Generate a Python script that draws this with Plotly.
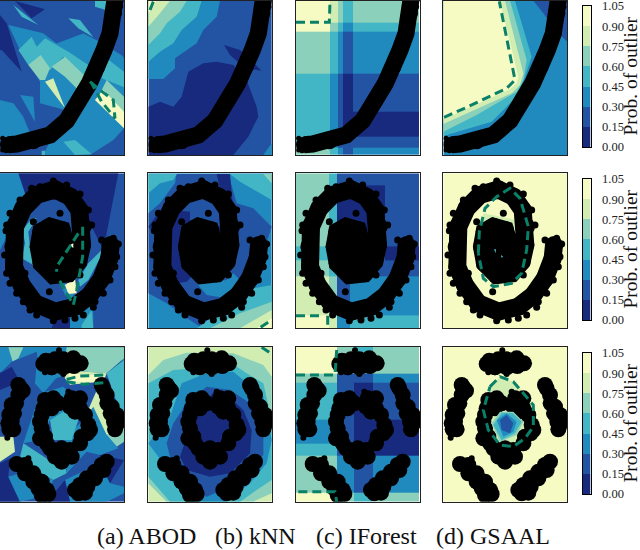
import plotly.graph_objects as go

W, H = 640, 550

# band colours, one per 0.15 of outlier probability
LEVEL_COLORS = ['#182a7e', '#2354a3', '#2089bd', '#42b6c4', '#8bd0ba', '#d1edb2', '#f6fbc4']
CONTOUR = '#0a8068'
CBAR_TICKS = [0.0, 0.15, 0.3, 0.45, 0.6, 0.75, 0.9, 1.05]
CBAR_TOP = [6, 179, 353]
CAPTIONS = ['(a) ABOD', '(b) kNN', '(c) IForest', '(d) GSAAL']
CAPTION_X = [146, 255.5, 366, 492.5]

COL_LEFT = [0, 445, 18, 370]
COL_PX = [0, 148.33, 296, 443.33]
ROW_TOP = [2, 10, 20]
ROW_BOTTOM = [465, 475, 485]
ROW_OFF = [0, 170, 340]

# --- data clouds (x relative to panel left)
CURVE = [(346, -8), (342, 40), (330, 100), (312, 150), (292, 200), (268, 250), (238, 300), (200, 362),
         (150, 405), (100, 424), (50, 432), (24, 434)]
CURVE_DOTS = [(8, 415), (8, 450), (345, 8), (362, 20), (18, 452)]

SPIRAL = [(332, 225), (328, 265), (305, 325), (270, 375), (225, 410), (165, 425), (105, 400), (65, 345),
          (42, 290), (40, 230), (45, 170), (70, 115), (110, 75), (165, 58), (210, 80), (238, 120),
          (248, 170), (246, 225), (235, 275), (205, 310), (160, 315), (125, 280), (116, 230), (124, 185),
          (150, 170), (185, 180), (195, 215), (170, 240)]
SPIRAL_FILL = [(160, 210), (160, 255), (190, 270), (205, 270), (170, 290), (145, 240), (215, 255)]
SPIRAL_DOTS = [(160, 33), (95, 55), (240, 72), (20, 165), (18, 182), (14, 255), (30, 340), (70, 395),
               (110, 435), (160, 452), (225, 445), (250, 435), (310, 370), (345, 290), (355, 222),
               (340, 205), (305, 210), (180, 130), (240, 315), (148, 365), (280, 412), (100, 155),
               (120, 50), (200, 45), (265, 120), (275, 165), (60, 90), (30, 130), (20, 310), (50, 370),
               (90, 420), (195, 450), (285, 395), (330, 330), (350, 260), (75, 310)]

BLOBS = [
    [(138, 62), (150, 72), (165, 58), (175, 76), (190, 58), (205, 76), (220, 55), (222, 78), (242, 70),
     (130, 72), (155, 82), (190, 82)],
    [(62, 145), (68, 152), (55, 165), (48, 190), (35, 195), (42, 220), (28, 225), (35, 245), (25, 250),
     (28, 268), (40, 268), (55, 135)],
    [(310, 145), (320, 165), (322, 190), (335, 200), (332, 220), (350, 225), (342, 245), (352, 250),
     (345, 268), (305, 135)],
    [(50, 372), (75, 375), (75, 400), (100, 400), (100, 425), (125, 425), (115, 445), (140, 450),
     (125, 465), (145, 462)],
    [(320, 365), (305, 375), (310, 390), (285, 395), (285, 415), (260, 415), (262, 440), (240, 435),
     (235, 460), (255, 458), (225, 450)],
    [(135, 180), (160, 175), (130, 205), (155, 205), (175, 190), (125, 225), (215, 175), (240, 175),
     (210, 200), (240, 205), (255, 225), (225, 215), (265, 255), (262, 280), (245, 290), (240, 310),
     (270, 270), (160, 330), (185, 325), (210, 330), (165, 350), (190, 355), (215, 350), (185, 365),
     (120, 245), (125, 265), (120, 295), (140, 310), (150, 325), (135, 290)],
]
BLOB_DOTS = [(177, 31), (135, 97), (155, 97), (190, 102), (205, 155), (22, 293), (85, 355)]

# --- ABOD regions, painted in order
R1_ABOD = [
    (1, [(0, 2), (372, 2), (372, 465), (0, 465)]),
    (2, [(25, 75), (130, 100), (170, 130), (250, 100), (300, 125), (372, 170), (372, 465), (130, 465),
         (195, 330), (120, 310), (120, 245), (60, 150)]),
    (2, [(0, 300), (40, 310), (70, 350), (90, 400), (0, 420)]),
    (0, [(0, 45), (20, 70), (65, 215), (5, 150), (0, 150)]),
    (0, [(45, 3), (135, 28), (95, 55)]),
    (1, [(135, 2), (285, 2), (340, 20), (300, 125), (250, 100), (170, 130), (130, 100)]),
    (3, [(40, 15), (115, 75), (65, 50)]),
    (3, [(285, 2), (325, 2), (318, 30), (285, 20)]),
    (3, [(205, 55), (240, 60), (280, 112), (235, 85)]),
    (3, [(55, 150), (95, 110), (110, 140), (135, 115), (205, 155), (265, 195), (245, 240), (190, 170),
         (150, 210), (85, 195)]),
    (4, [(85, 195), (122, 165), (150, 205), (135, 240), (120, 240)]),
    (4, [(155, 200), (195, 170), (262, 235), (240, 275), (195, 230)]),
    (5, [(135, 245), (160, 235), (195, 325)]),
    (2, [(60, 285), (105, 365), (100, 290)]),
    (1, [(340, 120), (372, 115), (372, 175)]),
    (3, [(320, 175), (372, 215), (372, 262), (305, 235)]),
    (4, [(320, 240), (372, 290), (372, 340), (295, 290)]),
    (6, [(285, 300), (310, 270), (372, 335), (372, 385)]),
    (3, [(190, 425), (225, 420), (275, 462), (225, 465)]),
    (1, [(270, 465), (340, 420), (372, 385), (372, 465)]),
    (3, [(125, 452), (135, 452), (135, 465), (125, 465)]),
]
R1_ABOD_DASH = [(270, 245), (300, 270), (340, 300), (345, 355), (305, 305), (275, 250)]

R2_ABOD = [
    (1, [(0, 10), (372, 10), (372, 475), (0, 475)]),
    (2, [(0, 10), (55, 10), (80, 70), (40, 130), (20, 200), (0, 240)]),
    (0, [(55, 10), (355, 10), (310, 240), (265, 150), (240, 90), (90, 90), (75, 70)]),
    (0, [(155, 475), (165, 445), (210, 445), (210, 475)]),
    (3, [(95, 145), (110, 145), (85, 185), (90, 230), (105, 250), (100, 285), (65, 265), (75, 220), (68, 180)]),
    (3, [(235, 330), (265, 280), (305, 240), (300, 265), (265, 330), (240, 350)]),
    (2, [(180, 340), (240, 345), (215, 385), (195, 375)]),
    (2, [(210, 445), (280, 395), (280, 475), (210, 475)]),
    (3, [(245, 465), (275, 420), (280, 475), (245, 475)]),
    (6, [(195, 345), (225, 325), (230, 370), (205, 372)]),
]
R2_ABOD_TOP = [(6, [(210, 225), (220, 220), (220, 235)])]
R2_ABOD_DASH = [(235, 190), (170, 290), (170, 305), (None, None),
                (248, 170), (248, 260), (230, 360), (220, 405), (175, 325)]

R3_ABOD = [
    (1, [(0, 20), (372, 20), (372, 485), (0, 485)]),
    (2, [(0, 20), (372, 20), (372, 60), (110, 130), (0, 95)]),
    (4, [(25, 22), (70, 22), (55, 55), (38, 65)]),
    (1, [(35, 65), (110, 35), (130, 160), (80, 250), (40, 330), (0, 290), (0, 100)]),
    (0, [(0, 100), (35, 80), (60, 125), (0, 150)]),
    (2, [(110, 70), (190, 90), (130, 160), (105, 130)]),
    (4, [(200, 22), (372, 22), (372, 55), (320, 100), (190, 90)]),
    (3, [(320, 100), (372, 60), (372, 240), (340, 160)]),
    (5, [(190, 90), (320, 100), (310, 125), (210, 135), (195, 115)]),
    (6, [(205, 100), (315, 108), (305, 130), (210, 125)]),
    (1, [(205, 135), (300, 125), (265, 210), (240, 170)]),
    (5, [(260, 220), (295, 140), (330, 180), (345, 280), (320, 285)]),
    (4, [(320, 285), (372, 240), (372, 305), (350, 320)]),
    (2, [(255, 235), (280, 200), (320, 285), (355, 325), (300, 345), (260, 335), (200, 400), (190, 300)]),
    (2, [(120, 160), (190, 140), (240, 190), (150, 240), (120, 300), (70, 310)]),
    (3, [(150, 240), (190, 215), (235, 240), (215, 300), (160, 300)]),
    (3, [(70, 310), (115, 340), (170, 375), (185, 340), (200, 400), (160, 420), (125, 400), (60, 350)]),
    (2, [(60, 350), (125, 400), (160, 420), (150, 440), (60, 420)]),
    (5, [(0, 290), (40, 290), (45, 335), (0, 365)]),
    (0, [(0, 370), (30, 355), (25, 410), (60, 485), (0, 485)]),
    (2, [(25, 410), (60, 400), (125, 470), (60, 485)]),
    (2, [(195, 420), (300, 370), (330, 430), (372, 440), (372, 460), (320, 485), (210, 485)]),
    (0, [(145, 485), (170, 450), (195, 420), (210, 485)]),
    (0, [(300, 345), (372, 360), (330, 430), (300, 370)]),
]
R3_ABOD_DASH = [(200, 118), (240, 108), (315, 105), (None, None), (200, 125), (250, 133), (310, 128)]

# --- kNN regions
R1_KNN = [
    (1, [(445, 2), (815, 2), (815, 465), (445, 465)]),
    (2, [(445, 2), (660, 2), (650, 50), (610, 90), (590, 130), (525, 175), (525, 205), (490, 237), (445, 237)]),
    (3, [(445, 2), (605, 2), (590, 50), (545, 90), (520, 130), (480, 155), (445, 185)]),
    (4, [(445, 2), (560, 2), (540, 35), (500, 70), (480, 100), (445, 135)]),
    (5, [(445, 2), (510, 2), (480, 40), (445, 80)]),
    (6, [(445, 2), (470, 2), (445, 40)]),
    (0, [(445, 320), (480, 305), (520, 320), (545, 290), (565, 215), (610, 190), (650, 185), (700, 195),
         (740, 240), (770, 320), (775, 350), (745, 410), (700, 465), (445, 465)]),
    (0, [(672, 135), (720, 150), (785, 212), (735, 205), (690, 165)]),
    (2, [(790, 465), (815, 430), (815, 465)]),
]
R1_KNN_DASH = [(460, 5), (448, 35)]

R2_KNN = [
    (2, [(445, 10), (815, 10), (815, 475), (445, 475)]),
    (1, [(445, 130), (480, 100), (525, 40), (530, 12), (685, 12), (710, 100), (760, 115), (815, 170),
         (790, 250), (760, 330), (720, 360), (690, 395), (600, 470), (555, 440), (500, 400), (445, 370)]),
    (0, [(650, 12), (690, 12), (700, 120), (670, 100)]),
    (0, [(445, 170), (470, 135), (500, 120), (575, 125), (600, 130), (660, 130), (670, 190), (650, 240),
         (560, 335), (530, 340), (490, 290), (470, 200)]),
    (1, [(570, 110), (665, 130), (660, 170), (570, 150)]),
    (2, [(590, 340), (680, 330), (700, 310), (725, 335), (680, 385), (620, 375)]),
    (3, [(445, 12), (530, 12), (520, 30), (480, 40), (445, 70)]),
    (3, [(690, 12), (815, 12), (815, 90), (780, 70), (720, 35)]),
    (4, [(790, 12), (815, 12), (815, 40)]),
    (3, [(590, 475), (700, 395), (760, 355), (815, 345), (815, 475)]),
    (4, [(630, 475), (720, 430), (815, 395), (815, 475)]),
    (5, [(720, 475), (815, 420), (815, 475)]),
    (6, [(770, 475), (815, 445), (815, 475)]),
]
R2_KNN_DASH = [(782, 472), (815, 450)]

R3_KNN = [
    (5, [(445, 20), (815, 20), (815, 485), (445, 485)]),
    (4, [(445, 105), (490, 60), (560, 38), (700, 40), (790, 75), (815, 110), (815, 460), (760, 485),
         (500, 485), (445, 430)]),
    (3, [(445, 130), (520, 90), (590, 85), (680, 60), (740, 100), (790, 130), (815, 240), (815, 420),
         (770, 450), (720, 485), (510, 485), (445, 410)]),
    (2, [(445, 310), (510, 230), (545, 130), (620, 100), (700, 95), (790, 170), (815, 300), (800, 370),
         (750, 430), (680, 485), (590, 485), (520, 430), (475, 350)]),
    (1, [(560, 190), (620, 140), (690, 150), (750, 190), (790, 280), (790, 345), (760, 385), (690, 440),
         (620, 470), (570, 440), (520, 390), (500, 310), (520, 250)]),
    (0, [(600, 215), (640, 155), (680, 165), (730, 210), (755, 270), (750, 340), (690, 400), (630, 410),
         (560, 390), (540, 350), (560, 290)]),
]
R3_KNN_DASH = [(785, 22), (812, 40)]

# --- IForest cells: x edges, y edges, band index per cell
R1_IF_X = [18, 120, 145, 160, 190, 388]
R1_IF_Y = [2, 68, 95, 220, 335, 410, 443, 465]
R1_IF_Z = [[6, 5, 4, 3, 4],
           [6, 4, 3, 2, 3],
           [4, 3, 2, 1, 2],
           [3, 2, 1, 0, 1],
           [3, 2, 1, 0, 0],
           [3, 2, 1, 1, 1],
           [4, 3, 2, 1, 2]]
R1_IF_DASH = [(18, 67), (118, 67), (120, 3)]

R2_IF_X = [18, 118, 140, 180, 285, 388]
R2_IF_Y = [10, 45, 228, 270, 320, 435, 475]
R2_IF_Z = [[4, 3, 1, 1, 1],
           [4, 3, 0, 0, 1],
           [3, 2, 1, 1, 0],
           [4, 3, 1, 1, 1],
           [5, 4, 1, 2, 2],
           [6, 5, 2, 3, 3]]
R2_IF_DASH = [(18, 437), (100, 437), (None, None), (113, 437), (113, 475)]

R3_IF_X = [18, 140, 192, 248, 388]
R3_IF_Y = [20, 102, 128, 240, 310, 348, 457, 485]
R3_IF_Z = [[6, 4, 3, 4],
           [4, 1, 1, 2],
           [3, 1, 0, 1],
           [2, 1, 0, 0],
           [3, 1, 0, 0],
           [4, 2, 1, 2],
           [6, 4, 3, 4]]
R3_IF_DASH = [(18, 105), (135, 105), (140, 30), (None, None), (25, 455), (135, 455), (140, 485)]

# --- GSAAL regions
R1_GS = [
    (2, [(370, 2), (742, 2), (742, 465), (370, 465)]),
    (1, [(640, 2), (742, 2), (742, 125), (710, 95), (670, 40)]),
    (3, [(370, 2), (585, 2), (635, 170), (615, 230), (590, 290), (515, 365), (370, 408)]),
    (4, [(370, 2), (570, 2), (620, 180), (610, 240), (590, 275), (470, 345), (370, 395)]),
    (5, [(370, 2), (555, 2), (610, 220), (600, 255), (575, 280), (440, 340), (370, 372)]),
    (6, [(370, 2), (540, 2), (595, 230), (590, 250), (570, 268), (370, 358)]),
]
R1_GS_DASH = [(372, 352), (440, 322), (560, 265), (585, 240), (538, 4)]

R2_GS = [
    (6, [(370, 10), (742, 10), (742, 475), (370, 475)]),
    (5, [(490, 130), (590, 150), (620, 230), (600, 300), (540, 345), (490, 320), (465, 240)]),
]
R2_GS_TOP = [(3, [(522, 238), (528, 238), (527, 250)]), (3, [(543, 255), (550, 260), (544, 263)])]
R2_GS_DASH = [(475, 250), (478, 185), (495, 115), (530, 80), (570, 55), (600, 85), (625, 170), (620, 240),
              (605, 310), (575, 340), (520, 350), (490, 325), (475, 250)]

R3_GS = [
    (6, [(370, 20), (742, 20), (742, 485), (370, 485)]),
    (5, [(510, 140), (540, 110), (580, 125), (640, 190), (640, 250), (620, 300), (560, 320), (520, 310),
         (490, 260), (490, 210)]),
]
R3_GS_TOP = [
    (4, [(515, 250), (540, 215), (580, 215), (610, 245), (590, 285), (540, 305)]),
    (3, [(520, 255), (545, 218), (578, 220), (605, 245), (585, 280), (545, 300)]),
    (2, [(530, 240), (560, 220), (590, 245), (580, 275), (550, 290)]),
    (1, [(540, 240), (560, 225), (580, 250), (570, 280), (545, 270)]),
]
R3_GS_DASH = [(510, 140), (540, 110), (580, 125), (640, 195), (640, 260), (615, 295), (580, 320), (540, 315),
              (505, 270), (490, 210), (510, 140)]


def band_scale():
    scale = []
    for i, c in enumerate(LEVEL_COLORS):
        scale += [[i / 7, c], [(i + 1) / 7, c]]
    return scale


def split(pts):
    return [p[0] for p in pts], [p[1] for p in pts]


def add_regions(fig, regions, axis):
    for level, pts in regions:
        xs, ys = split(pts)
        fig.add_trace(go.Scatter(x=xs, y=ys, mode='lines', fill='toself', fillcolor=LEVEL_COLORS[level],
                                 line=dict(width=0), hoverinfo='skip', showlegend=False,
                                 xaxis='x' + axis, yaxis='y' + axis))


def add_cells(fig, xs, ys, z, axis):
    vals = [[(v + 0.5) * 0.15 for v in row] for row in z]
    fig.add_trace(go.Heatmap(x=xs, y=ys, z=vals, zmin=0, zmax=1.05, colorscale=band_scale(), showscale=False,
                             xaxis='x' + axis, yaxis='y' + axis))


def add_line(fig, pts, shift, axis, width, size):
    xs = [p[0] + shift for p in pts]
    ys = [p[1] for p in pts]
    fig.add_trace(go.Scatter(x=xs, y=ys, mode='lines+markers', line=dict(color='black', width=width),
                             marker=dict(color='black', size=size), showlegend=False,
                             xaxis='x' + axis, yaxis='y' + axis))


def add_dots(fig, pts, shift, axis, size=6):
    xs, ys = split(pts)
    fig.add_trace(go.Scatter(x=[x + shift for x in xs], y=ys, mode='markers', marker=dict(color='black', size=size),
                             showlegend=False, xaxis='x' + axis, yaxis='y' + axis))


def add_cloud(fig, row, shift, axis):
    if row == 0:
        add_line(fig, CURVE, shift, axis, 17, 16)
        add_dots(fig, CURVE_DOTS, shift, axis, 5)
    elif row == 1:
        add_line(fig, SPIRAL, shift, axis, 18, 18)
        add_dots(fig, SPIRAL_FILL, shift, axis, 16)
        add_dots(fig, SPIRAL_DOTS, shift, axis, 7)
    else:
        for blob in BLOBS:
            add_dots(fig, blob, shift, axis, 16)
        add_dots(fig, BLOB_DOTS, shift, axis, 6)


def add_dash(fig, pts, axis):
    xs, ys = split(pts)
    fig.add_trace(go.Scatter(x=xs, y=ys, mode='lines', line=dict(color=CONTOUR, width=3, dash='9px,5px'),
                             showlegend=False, xaxis='x' + axis, yaxis='y' + axis))


PANELS = [
    [(R1_ABOD, None, R1_ABOD_DASH), (R1_KNN, None, R1_KNN_DASH), ((R1_IF_X, R1_IF_Y, R1_IF_Z), None, R1_IF_DASH), (R1_GS, None, R1_GS_DASH)],
    [(R2_ABOD, R2_ABOD_TOP, R2_ABOD_DASH), (R2_KNN, None, R2_KNN_DASH), ((R2_IF_X, R2_IF_Y, R2_IF_Z), None, R2_IF_DASH), (R2_GS, R2_GS_TOP, R2_GS_DASH)],
    [(R3_ABOD, None, R3_ABOD_DASH), (R3_KNN, None, R3_KNN_DASH), ((R3_IF_X, R3_IF_Y, R3_IF_Z), None, R3_IF_DASH), (R3_GS, R3_GS_TOP, R3_GS_DASH)],
]

fig = go.Figure()
layout = {}
n = 0
for r, row in enumerate(PANELS):
    top = ROW_OFF[r] + ROW_TOP[r] / 3
    bottom = ROW_OFF[r] + ROW_BOTTOM[r] / 3
    for c, (field, over, dash) in enumerate(row):
        n += 1
        axis = str(n)
        if c == 2:
            add_cells(fig, field[0], field[1], field[2], axis)
        else:
            add_regions(fig, field, axis)
        add_cloud(fig, r, COL_LEFT[c], axis)
        if over:
            add_regions(fig, over, axis)
        add_dash(fig, dash, axis)
        frame = dict(showline=True, mirror=True, linecolor='#222222', linewidth=1, showticklabels=False,
                     ticks='', showgrid=False, zeroline=False)
        layout['xaxis' + axis] = dict(frame, domain=[COL_PX[c] / W, (COL_PX[c] + 124) / W],
                                      range=[COL_LEFT[c], COL_LEFT[c] + 372], anchor='y' + axis)
        layout['yaxis' + axis] = dict(frame, domain=[1 - bottom / H, 1 - top / H],
                                      range=[ROW_BOTTOM[r], ROW_TOP[r]], anchor='x' + axis)

    # colour bar beside each row, as its own small heatmap axis
    axis = str(13 + r)
    mids = [[CBAR_TICKS[i] + 0.075] for i in range(7)]
    fig.add_trace(go.Heatmap(x=[0, 1], y=CBAR_TICKS, z=mids, zmin=0, zmax=1.05, colorscale=band_scale(),
                             showscale=False, xaxis='x' + axis, yaxis='y' + axis))
    bar_top = CBAR_TOP[r]
    layout['xaxis' + axis] = dict(domain=[582.5 / W, 590.5 / W], range=[0, 1], anchor='y' + axis, showline=True,
                                  mirror=True, linecolor='black', linewidth=1, showticklabels=False, ticks='',
                                  showgrid=False, zeroline=False)
    layout['yaxis' + axis] = dict(domain=[1 - (bar_top + 141) / H, 1 - bar_top / H], range=[0, 1.05],
                                  anchor='x' + axis, side='right', showline=True, mirror=True, linecolor='black',
                                  linewidth=1, tickvals=CBAR_TICKS, tickformat='.2f', ticks='outside', ticklen=8,
                                  tickcolor='rgba(0,0,0,0)', showgrid=False, zeroline=False, ticklabeloverflow='allow',
                                  tickfont=dict(family='Liberation Serif', size=12.5, color='#222222'))
    fig.add_annotation(text='Prob. of outlier', x=630 / W, y=1 - (bar_top + 70.5) / H, xref='paper', yref='paper',
                       textangle=-90, showarrow=False, xanchor='center', yanchor='middle', borderpad=0,
                       font=dict(family='Liberation Serif', size=19.5, color='#111111'))

fig.update_layout(width=W, height=H, margin=dict(l=0, r=0, t=0, b=0, autoexpand=False), paper_bgcolor='white',
                  plot_bgcolor='white', showlegend=False, **layout)
for text, x in zip(CAPTIONS, CAPTION_X):
    fig.add_annotation(text=text, x=x / W, y=1 - 536 / H, xref='paper', yref='paper', showarrow=False,
                       xanchor='center', yanchor='middle',
                       font=dict(family='Liberation Serif', size=24, color='#111111'))

fig.write_html('out.html', config={'displayModeBar': False, 'responsive': False},
               post_script="document.body.style.margin='0';document.body.style.overflow='hidden';")
